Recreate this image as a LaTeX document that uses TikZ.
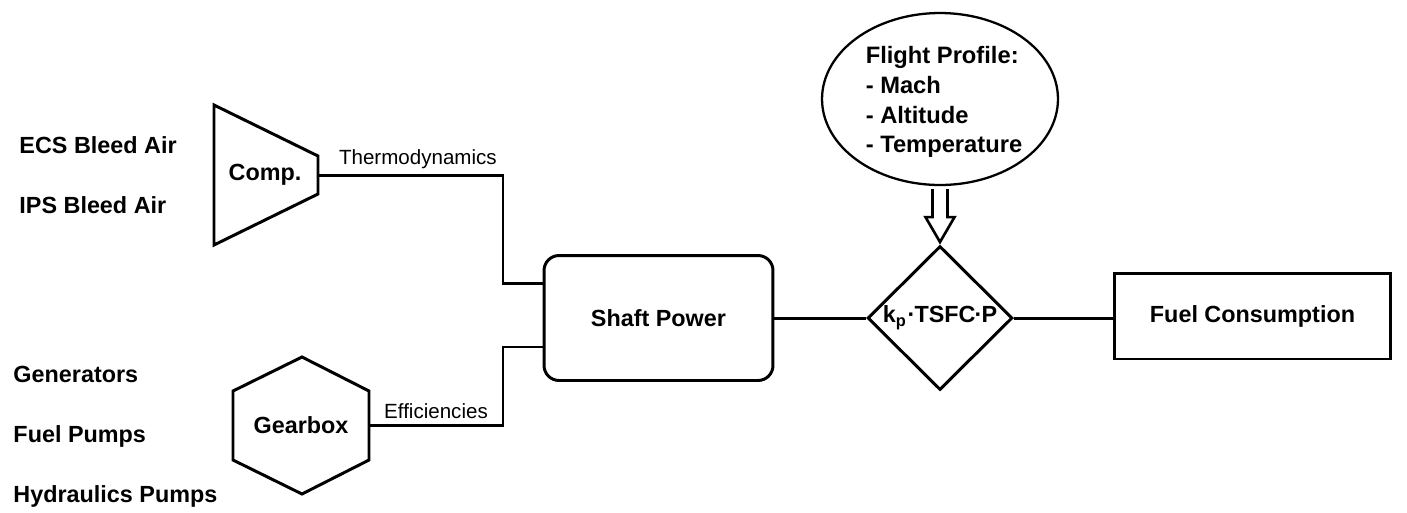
\documentclass[tikz,border=0pt]{standalone}
\usepackage{fontspec}
\setmainfont{Liberation Sans}
\usetikzlibrary{shapes, arrows, positioning, calc}

\begin{document}
\begin{tikzpicture}[
        x=0.02cm, y=-0.02cm,
        line width=1.7pt,
        label/.style={font=\bfseries\fontsize{13.3}{17}\selectfont},
        side/.style={label, anchor=base west, inner sep=0pt},
        note/.style={font=\fontsize{11.7}{14}\selectfont, inner sep=2.5pt},
        block/.style={draw, label, align=center, inner sep=0pt},
        wire/.style={line width=1.7pt},
        hollow/.style={line width=1.5pt, line join=miter}
    ]
    \useasboundingbox (0,0) rectangle (1407,512);

    % loads on the engine
    \node[side] (ecs) at (18,153) {ECS Bleed Air};
    \node[side] (ips) at (18,213) {IPS Bleed Air};
    \node[side] (gen) at (12,382) {Generators};
    \node[side] (fuelp) at (12,442) {Fuel Pumps};
    \node[side] (hyd) at (12,502) {Hydraulics Pumps};

    % compressor and gearbox
    \node[label] (comp) at (265,175) {Comp.};
    \draw (214,105) -- (318,156) -- (318,194) -- (214,245) -- cycle;
    \coordinate (compOut) at (318,175);

    \node[label] (gear) at (301,425) {Gearbox};
    \draw (302,357) -- (369,391) -- (369,460) -- (302,494) -- (233,460) -- (233,391) -- cycle;
    \coordinate (gearOut) at (369,425);

    % main chain
    \node[block, rounded corners=0.3cm, minimum width=4.58cm, minimum height=2.5cm] (power) at (658.5,318) {Shaft Power};
    \node[block, diamond, minimum width=2.9cm, minimum height=2.88cm] (formula) at (940,318) {k\textsubscript{p}\kern0.5pt·\kern-0.5pt TSFC\kern-0.5pt·\kern-0.5pt P};
    \node[block, minimum width=5.54cm, minimum height=1.72cm] (fuel) at (1252.5,316) {Fuel Consumption};
    \node[block, ellipse, line width=1.3pt, minimum width=4.72cm, minimum height=3.44cm] (profile) at (940,99) {};
    \node[label, align=left, font=\bfseries\fontsize{13.5}{17}\selectfont] (profileText) at (944,102)
        {Flight Profile:\\- Mach\\- Altitude\\- Temperature};

    \draw[wire] (compOut) -- node[note, above, pos=0.54] {Thermodynamics} ++(185,0) |- ([yshift=0.7cm]power.west);
    \draw[wire] (gearOut) -- node[note, above] {Efficiencies} ++(134,0) |- ([yshift=-0.58cm]power.west);
    \draw[wire] (power.east) -- (formula.west);
    \draw[wire] (formula.east) -- (formula.east -| fuel.west);

    % flight profile feeds the formula
    \draw[hollow] ($(profile.south)+(-7.5,3)$) -- ($(profile.south)+(-7.5,31)$) -- ($(profile.south)+(-14.5,31)$)
        -- ([yshift=0.05cm]formula.north) -- ($(profile.south)+(14.5,31)$) -- ($(profile.south)+(7.5,31)$) -- ($(profile.south)+(7.5,3)$);
\end{tikzpicture}
\end{document}
